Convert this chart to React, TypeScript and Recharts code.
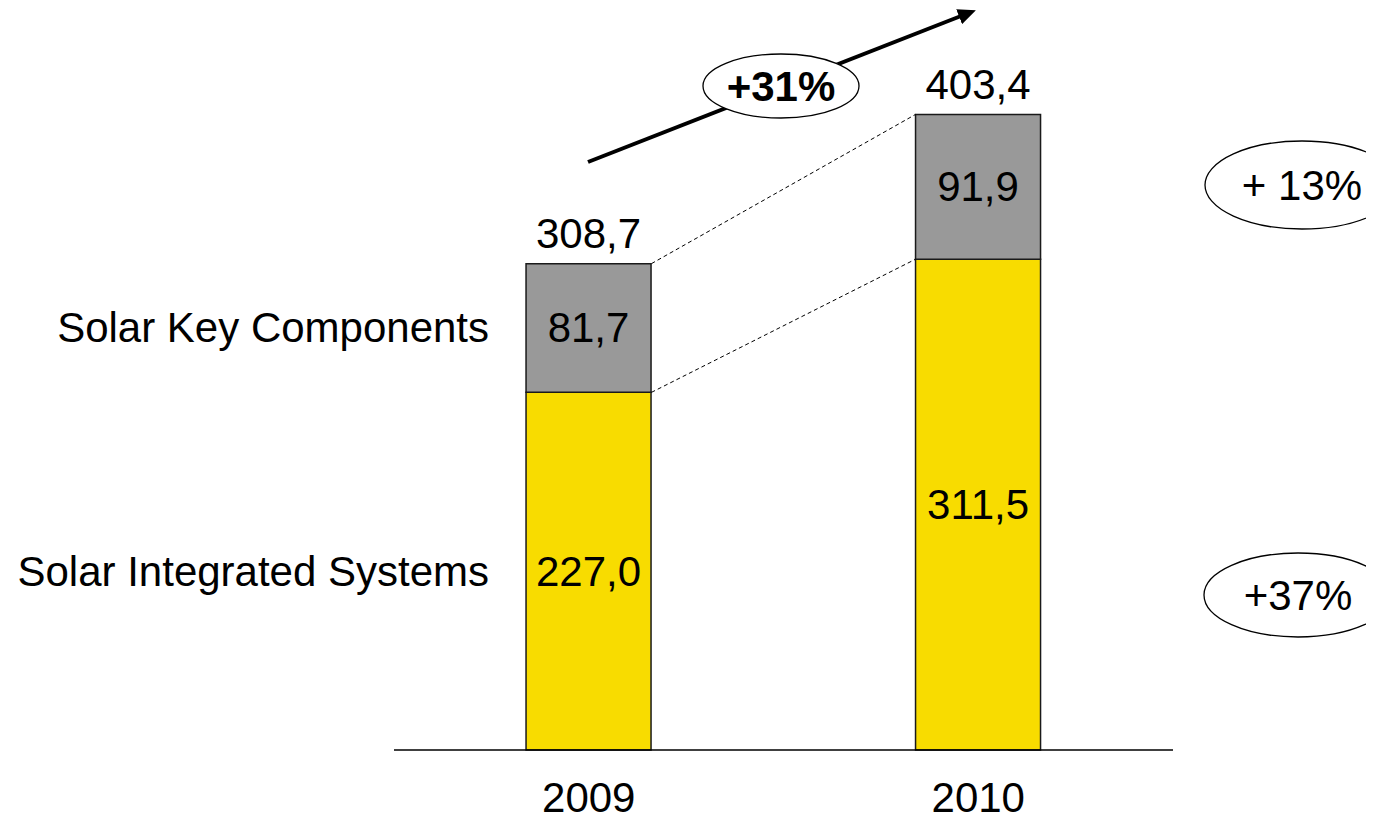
import React from 'react';
import { BarChart, Bar, XAxis, YAxis, LabelList, ReferenceLine } from 'recharts';

const years = ['2009', '2010'];
const integratedSystems = [227.0, 311.5];
const keyComponents = [81.7, 91.9];
const totals = [308.7, 403.4];
const seriesNames = ['Solar Integrated Systems', 'Solar Key Components'];
const totalGrowth = '+31%';
const keyComponentsGrowth = '+ 13%';
const integratedGrowth = '+37%';

const colors = {
  integrated: '#F8DC00',
  components: '#999999',
  ink: '#000000',
};

const FONT = 'Liberation Sans, Arial, sans-serif';
const FONT_SIZE = 42;
const GAP = 0.339; // barCategoryGap as fraction of the band

const data = years.map((year, i) => ({
  year,
  sis: integratedSystems[i],
  skc: keyComponents[i],
  total: totals[i],
}));

const fmt = (v: number) => v.toFixed(1).replace('.', ',');

const box = (props: any) => props.viewBox ?? props;

const TotalLabel = (props: any) => {
  const { x, y, width } = box(props);
  return (
    <text
      x={x + width / 2}
      y={y - 30}
      textAnchor="middle"
      dominantBaseline="central"
      fontFamily={FONT}
      fontSize={FONT_SIZE}
      fill={colors.ink}
    >
      {fmt(Number(props.value))}
    </text>
  );
};

const ValueLabel = (props: any) => {
  const { x, y, width, height } = box(props);
  return (
    <text
      x={x + width / 2}
      y={y + height / 2}
      textAnchor="middle"
      dominantBaseline="central"
      fontFamily={FONT}
      fontSize={FONT_SIZE}
      fill={colors.ink}
    >
      {fmt(Number(props.value))}
    </text>
  );
};

// series names sit to the left of the first bar
const makeNameLabel = (name: string) => (props: any) => {
  if (props.value !== years[0]) return null;
  const { x, y, height } = box(props);
  return (
    <text
      x={x - 37}
      y={y + height / 2}
      textAnchor="end"
      dominantBaseline="central"
      fontFamily={FONT}
      fontSize={FONT_SIZE}
      fill={colors.ink}
    >
      {name}
    </text>
  );
};

const YearTick = ({ x, y, payload }: any) => (
  <text
    x={x}
    y={y + 47}
    textAnchor="middle"
    dominantBaseline="central"
    fontFamily={FONT}
    fontSize={FONT_SIZE}
    fill={colors.ink}
  >
    {payload.value}
  </text>
);

// segment runs centre to centre; trim it to the bar edges
const Connector = (props: any) => {
  const { x1, y1, x2, y2 } = props;
  const band = x2 - x1;
  const half = band * (0.5 - GAP);
  return (
    <line
      x1={x1 + half}
      y1={y1}
      x2={x2 - half}
      y2={y2}
      stroke={colors.ink}
      strokeWidth={1}
      strokeDasharray="4 3"
    />
  );
};

const Bubble = ({ cx, cy, rx, ry, text, bold }: any) => (
  <g>
    <ellipse cx={cx} cy={cy} rx={rx} ry={ry} fill="#fff" stroke={colors.ink} strokeWidth={1.3} />
    <text
      x={cx}
      y={cy}
      textAnchor="middle"
      dominantBaseline="central"
      fontFamily={FONT}
      fontSize={FONT_SIZE}
      fontWeight={bold ? 'bold' : 'normal'}
      fill={colors.ink}
    >
      {text}
    </text>
  </g>
);

export default function App() {
  return (
    <div style={{ position: 'relative', width: 1366, height: 811 }}>
      <BarChart
        width={1366}
        height={811}
        data={data}
        margin={{ top: 33, right: 201, bottom: 9, left: 386 }}
        barCategoryGap={`${GAP * 100}%`}
      >
        <XAxis
          dataKey="year"
          height={60}
          tickSize={0}
          tickMargin={0}
          tickLine={false}
          axisLine={{ stroke: colors.ink, strokeWidth: 1.5 }}
          tick={<YearTick />}
        />
        <YAxis hide domain={[0, 450]} />
        <Bar
          dataKey="sis"
          stackId="a"
          fill={colors.integrated}
          stroke="#1a1a1a"
          strokeWidth={1.5}
          isAnimationActive={false}
        >
          <LabelList dataKey="sis" content={<ValueLabel />} />
          <LabelList dataKey="year" content={makeNameLabel(seriesNames[0])} />
        </Bar>
        <Bar
          dataKey="skc"
          stackId="a"
          fill={colors.components}
          stroke="#1a1a1a"
          strokeWidth={1.5}
          isAnimationActive={false}
        >
          <LabelList dataKey="skc" content={<ValueLabel />} />
          <LabelList dataKey="year" content={makeNameLabel(seriesNames[1])} />
          <LabelList dataKey="total" content={<TotalLabel />} />
        </Bar>
        <ReferenceLine
          segment={[
            { x: years[0], y: totals[0] },
            { x: years[1], y: totals[1] },
          ]}
          ifOverflow="visible"
          shape={Connector}
        />
        <ReferenceLine
          segment={[
            { x: years[0], y: integratedSystems[0] },
            { x: years[1], y: integratedSystems[1] },
          ]}
          ifOverflow="visible"
          shape={Connector}
        />
      </BarChart>

      {/* growth annotations */}
      <svg
        width={1366}
        height={811}
        style={{ position: 'absolute', left: 0, top: 0, pointerEvents: 'none' }}
      >
        <defs>
          <marker
            id="arrowHead"
            markerUnits="userSpaceOnUse"
            markerWidth={18}
            markerHeight={16}
            refX={2}
            refY={8}
            orient="auto"
          >
            <path d="M0,0 L18,8 L0,16 Z" fill={colors.ink} />
          </marker>
        </defs>
        <line x1={580} y1={154} x2={953} y2={8} stroke={colors.ink} strokeWidth={4} markerEnd="url(#arrowHead)" />
        <Bubble cx={773} cy={78} rx={78} ry={32} text={totalGrowth} bold />
        <Bubble cx={1294} cy={177} rx={97} ry={44} text={keyComponentsGrowth} />
        <Bubble cx={1290} cy={587} rx={94} ry={42} text={integratedGrowth} />
      </svg>
    </div>
  );
}
